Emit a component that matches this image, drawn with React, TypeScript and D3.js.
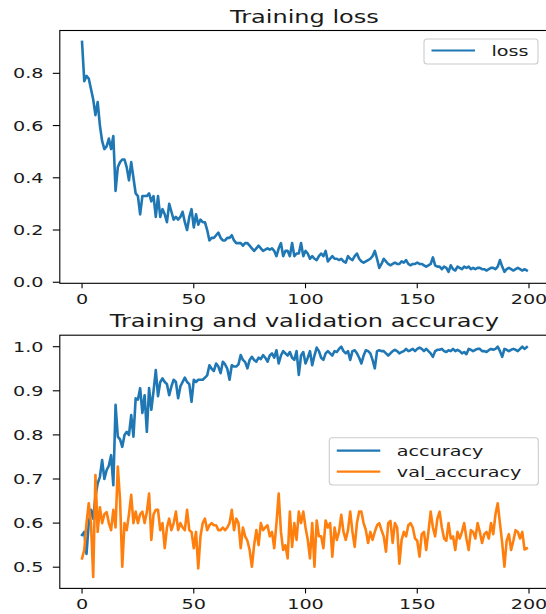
import React from 'react';
import * as d3 from 'd3';

// values, one per epoch (0..199)
const loss: number[] = [
  0.92, 0.77, 0.79, 0.78, 0.74, 0.70, 0.64, 0.69, 0.60, 0.54,
  0.51, 0.52, 0.55, 0.51, 0.56, 0.35, 0.44, 0.46, 0.47, 0.47,
  0.44, 0.39, 0.46, 0.40, 0.34, 0.33, 0.26, 0.33, 0.33, 0.33,
  0.34, 0.31, 0.33, 0.25, 0.33, 0.25, 0.28, 0.26, 0.23, 0.30,
  0.27, 0.24, 0.25, 0.24, 0.25, 0.27, 0.23, 0.20, 0.25, 0.28,
  0.21, 0.26, 0.22, 0.24, 0.23, 0.23, 0.20, 0.16, 0.17, 0.17,
  0.18, 0.19, 0.17, 0.16, 0.16, 0.17, 0.17, 0.18, 0.16, 0.15,
  0.15, 0.15, 0.14, 0.15, 0.15, 0.14, 0.13, 0.12, 0.13, 0.14,
  0.13, 0.12, 0.125, 0.13, 0.125, 0.13, 0.12, 0.10, 0.13, 0.15,
  0.10, 0.12, 0.12, 0.10, 0.15, 0.10, 0.11, 0.11, 0.15, 0.10,
  0.12, 0.11, 0.09, 0.10, 0.09, 0.085, 0.10, 0.11, 0.10, 0.12,
  0.08, 0.09, 0.10, 0.09, 0.09, 0.085, 0.09, 0.08, 0.075, 0.10,
  0.09, 0.085, 0.10, 0.11, 0.09, 0.08, 0.075, 0.08, 0.085, 0.09,
  0.10, 0.12, 0.09, 0.055, 0.07, 0.09, 0.08, 0.07, 0.065, 0.07,
  0.075, 0.07, 0.07, 0.08, 0.075, 0.085, 0.07, 0.065, 0.07, 0.07,
  0.075, 0.07, 0.07, 0.065, 0.06, 0.065, 0.07, 0.095, 0.065, 0.06,
  0.06, 0.05, 0.06, 0.055, 0.04, 0.065, 0.05, 0.045, 0.06, 0.055,
  0.05, 0.06, 0.055, 0.06, 0.05, 0.055, 0.05, 0.055, 0.055, 0.05,
  0.05, 0.045, 0.05, 0.055, 0.055, 0.05, 0.06, 0.085, 0.06, 0.04,
  0.05, 0.055, 0.05, 0.045, 0.05, 0.055, 0.05, 0.045, 0.05, 0.045,
];

const accuracy: number[] = [
  0.573, 0.58, 0.53, 0.60, 0.63, 0.61, 0.66, 0.69, 0.705, 0.743,
  0.70, 0.72, 0.73, 0.754, 0.686, 0.868, 0.796, 0.79, 0.773, 0.80,
  0.807, 0.80, 0.845, 0.796, 0.883, 0.88, 0.906, 0.85, 0.89, 0.807,
  0.906, 0.857, 0.90, 0.947, 0.888, 0.92, 0.928, 0.92, 0.915, 0.89,
  0.91, 0.925, 0.92, 0.883, 0.91, 0.92, 0.93, 0.92, 0.915, 0.875,
  0.925, 0.92, 0.925, 0.925, 0.925, 0.93, 0.935, 0.958, 0.95, 0.945,
  0.962, 0.955, 0.94, 0.966, 0.96, 0.95, 0.925, 0.958, 0.955, 0.955,
  0.96, 0.981, 0.97, 0.965, 0.951, 0.97, 0.977, 0.97, 0.966, 0.975,
  0.972, 0.981, 0.975, 0.966, 0.98, 0.985, 0.975, 0.992, 0.962, 0.98,
  0.99, 0.985, 0.98, 0.988, 0.975, 0.97, 0.99, 0.936, 0.98, 0.988,
  0.962, 0.975, 0.99, 0.958, 0.98, 0.998, 0.99, 0.975, 0.97, 0.985,
  0.99, 0.985, 0.98, 0.99, 0.988, 0.995, 1.0, 0.99, 0.985, 0.99,
  0.97, 0.99, 0.992, 0.985, 0.975, 0.962, 0.98, 0.992, 0.99, 0.985,
  0.97, 0.951, 0.99, 0.992, 0.99, 0.99, 0.985, 0.98, 0.985, 0.99,
  0.993, 0.99, 0.985, 0.988, 0.99, 0.995, 0.99, 0.992, 0.995, 0.99,
  0.995, 0.998, 0.995, 0.99, 0.995, 0.99, 0.985, 0.977, 0.99, 0.993,
  0.993, 0.995, 0.99, 0.988, 0.992, 0.99, 0.995, 0.99, 0.993, 0.99,
  0.985, 0.988, 0.983, 0.995, 0.993, 0.99, 0.993, 0.995, 0.995, 0.99,
  0.99, 0.988, 0.992, 0.995, 0.993, 0.995, 1.0, 0.99, 0.977, 0.995,
  0.993, 0.99, 0.993, 0.995, 0.993, 0.99, 0.995, 1.0, 0.995, 0.999,
];

const valAccuracy: number[] = [
  0.52, 0.539, 0.60, 0.645, 0.60, 0.478, 0.709, 0.58, 0.636, 0.60,
  0.62, 0.625, 0.60, 0.584, 0.63, 0.59, 0.728, 0.653, 0.501, 0.60,
  0.584, 0.62, 0.664, 0.60, 0.626, 0.60, 0.62, 0.626, 0.60, 0.625,
  0.667, 0.562, 0.62, 0.63, 0.63, 0.584, 0.60, 0.543, 0.59, 0.61,
  0.584, 0.60, 0.626, 0.584, 0.60, 0.59, 0.584, 0.63, 0.584, 0.58,
  0.543, 0.58, 0.497, 0.57, 0.60, 0.61, 0.584, 0.595, 0.60, 0.595,
  0.595, 0.584, 0.584, 0.59, 0.584, 0.59, 0.60, 0.63, 0.584, 0.61,
  0.60, 0.543, 0.59, 0.57, 0.56, 0.539, 0.501, 0.55, 0.584, 0.55,
  0.60, 0.584, 0.59, 0.595, 0.57, 0.58, 0.543, 0.60, 0.667, 0.58,
  0.539, 0.55, 0.52, 0.626, 0.546, 0.60, 0.562, 0.626, 0.60, 0.626,
  0.59, 0.562, 0.52, 0.60, 0.501, 0.606, 0.57, 0.57, 0.543, 0.606,
  0.59, 0.60, 0.524, 0.59, 0.562, 0.58, 0.619, 0.58, 0.562, 0.584,
  0.626, 0.58, 0.546, 0.60, 0.626, 0.626, 0.60, 0.584, 0.555, 0.58,
  0.562, 0.58, 0.595, 0.60, 0.584, 0.57, 0.535, 0.60, 0.605, 0.555,
  0.60, 0.59, 0.508, 0.562, 0.58, 0.57, 0.595, 0.60, 0.59, 0.565,
  0.56, 0.524, 0.575, 0.58, 0.539, 0.58, 0.626, 0.59, 0.57, 0.61,
  0.626, 0.59, 0.565, 0.56, 0.60, 0.565, 0.57, 0.539, 0.58, 0.565,
  0.58, 0.60, 0.565, 0.539, 0.584, 0.58, 0.565, 0.60, 0.58, 0.555,
  0.575, 0.58, 0.565, 0.60, 0.575, 0.62, 0.645, 0.60, 0.555, 0.501,
  0.56, 0.575, 0.539, 0.56, 0.584, 0.58, 0.565, 0.58, 0.54, 0.543,
];

const xTicks = [0, 50, 100, 150, 200];
const lossTicks = [0.0, 0.2, 0.4, 0.6, 0.8];
const accTicks = [0.5, 0.6, 0.7, 0.8, 0.9, 1.0];

const BLUE = '#1f77b4';
const ORANGE = '#ff7f0e';
const FONT = '"DejaVu Sans", sans-serif';
const SX = 1.38; // the reference is stretched sideways

const W = 546;
const H = 614;
const LEFT = 59.8;
const RIGHT = 549;

// text with the same horizontal stretch as the picture
const Txt = ({ x, y, anchor = 'start', size = 13.9, children }: any) => (
  <text
    transform={`translate(${x},${y}) scale(${SX},1)`}
    textAnchor={anchor}
    fontSize={size}
    fontFamily={FONT}
    fill="#1a1a1a"
  >
    {children}
  </text>
);

interface Series { name: string; values: number[]; color: string }

interface PanelProps {
  title: string;
  top: number;
  bottom: number;
  series: Series[];
  yTicks: number[];
  legend: { x0: number; x1: number; y0: number; y1: number };
}

const Panel = ({ title, top, bottom, series, yTicks, legend }: PanelProps) => {
  const n = series[0].values.length;
  const all = series.flatMap(s => s.values);
  const lo = d3.min(all)!;
  const hi = d3.max(all)!;
  const pad = (hi - lo) * 0.05;
  const xPad = (n - 1) * 0.05;

  const x = d3.scaleLinear().domain([-xPad, n - 1 + xPad]).range([LEFT, RIGHT]);
  const y = d3.scaleLinear().domain([lo - pad, hi + pad]).range([bottom, top]);
  const fmt = d3.format('.1f');

  const line = d3.line<number>()
    .x((d, i) => x(i))
    .y(d => y(d));

  const rowH = (legend.y1 - legend.y0) / series.length;

  return (
    <g>
      <Txt x={(LEFT + RIGHT) / 2} y={top - 8} anchor="middle" size={17.4}>{title}</Txt>

      {series.map(s => (
        <path key={s.name} d={line(s.values) ?? ''} fill="none" stroke={s.color}
          strokeWidth={2.6} strokeLinejoin="round" strokeLinecap="square" />
      ))}

      <rect x={LEFT} y={top} width={RIGHT - LEFT} height={bottom - top}
        fill="none" stroke="#000" strokeWidth={1.1} />

      {xTicks.map(t => (
        <g key={t}>
          <line x1={x(t)} x2={x(t)} y1={bottom} y2={bottom + 5} stroke="#000" strokeWidth={1.1} />
          <Txt x={x(t)} y={bottom + 21} anchor="middle">{t}</Txt>
        </g>
      ))}

      {yTicks.map(t => (
        <g key={t}>
          <line x1={LEFT - 7} x2={LEFT} y1={y(t)} y2={y(t)} stroke="#000" strokeWidth={1.1} />
          <Txt x={43.5} y={y(t) + 5} anchor="end">{fmt(t)}</Txt>
        </g>
      ))}

      <rect x={legend.x0} y={legend.y0} width={legend.x1 - legend.x0} height={legend.y1 - legend.y0}
        rx={3} fill="#fff" fillOpacity={0.8} stroke="#cccccc" strokeWidth={1.1} />
      {series.map((s, i) => {
        const cy = legend.y0 + rowH * (i + 0.5) + (series.length > 1 ? (i === 0 ? 1 : -1.5) : -1);
        return (
          <g key={s.name}>
            <line x1={legend.x0 + 7.5} x2={legend.x0 + 51} y1={cy} y2={cy} stroke={s.color} strokeWidth={2.2} />
            <Txt x={legend.x0 + 67.5} y={cy + 5}>{s.name}</Txt>
          </g>
        );
      })}
    </g>
  );
};

export default function App() {
  return (
    <div style={{ position: 'absolute', left: 0, top: 0, width: W, height: H, overflow: 'hidden', background: '#fff' }}>
      <svg width={W} height={H} style={{ display: 'block' }}>
        <rect width={W} height={H} fill="#fff" />
        <Panel
          title="Training loss"
          top={30.5}
          bottom={283.3}
          series={[{ name: 'loss', values: loss, color: BLUE }]}
          yTicks={lossTicks}
          legend={{ x0: 424, x1: 538, y0: 39, y1: 64 }}
        />
        <Panel
          title="Training and validation accuracy"
          top={335.2}
          bottom={588.4}
          series={[
            { name: 'accuracy', values: accuracy, color: BLUE },
            { name: 'val_accuracy', values: valAccuracy, color: ORANGE },
          ]}
          yTicks={accTicks}
          legend={{ x0: 329.3, x1: 538.3, y0: 437.7, y1: 485 }}
        />
      </svg>
    </div>
  );
}
